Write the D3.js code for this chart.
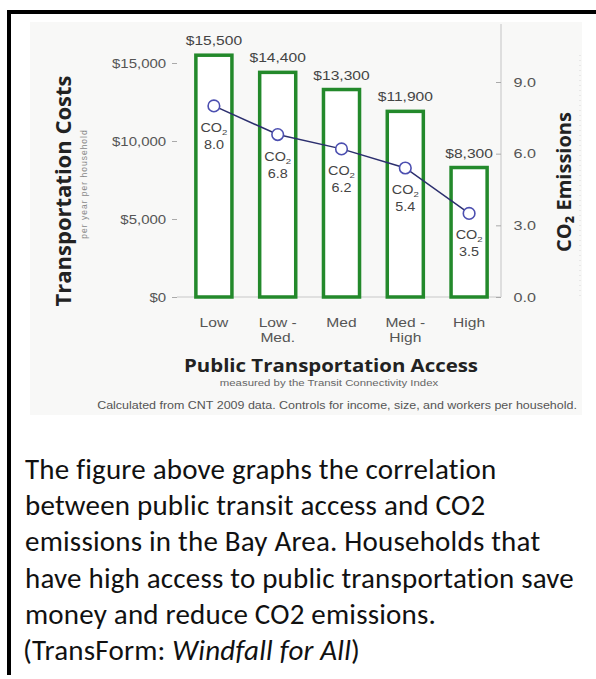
<!DOCTYPE html>
<html>
<head>
<meta charset="utf-8">
<script src="https://cdn.jsdelivr.net/npm/d3@7"></script>
<style>
  body { margin: 0; background: #fff; }
  svg { display: block; }
</style>
</head>
<body>
<script>
// chart values
var categories = ["Low", "Low - Med.", "Med", "Med - High", "High"];
var catLines = [["Low"], ["Low -", "Med."], ["Med"], ["Med -", "High"], ["High"]];
var costs = [15500, 14400, 13300, 11900, 8300];
var co2 = [8.0, 6.8, 6.2, 5.4, 3.5];
var costTicks = [0, 5000, 10000, 15000];
var co2Ticks = [0, 3, 6, 9];

var paragraph = [
  "The figure above graphs the correlation",
  "between public transit access and CO2",
  "emissions in the Bay Area. Households that",
  "have high access to public transportation save",
  "money and reduce CO2 emissions."
];

var w = 596;
var h = 679;
var chartFont = "'Liberation Sans', Arial, sans-serif";
var titleFont = "'Open Sans', 'Liberation Sans', sans-serif";
var captionFont = "Carlito, Calibri, Lato, sans-serif";
var green = "#23892b";
var stretch = 1.2; // the chart picture is a little wider than tall

var svg = d3.select("body")
            .append("svg")
            .attr("width", w)
            .attr("height", h)
            .style("background-color", "#fff");

// page frame (top and left rules)
svg.append("rect").attr("x", 7).attr("y", 10).attr("width", w - 7).attr("height", 4).attr("fill", "#000");
svg.append("rect").attr("x", 7).attr("y", 10).attr("width", 4).attr("height", 665).attr("fill", "#000");

// faint panel of the chart image
svg.append("rect")
  .attr("x", 30).attr("y", 22)
  .attr("width", 552).attr("height", 393)
  .attr("fill", "#f8f8f7");

var x = d3.scaleBand()
  .domain(categories)
  .range([182, 501])
  .paddingInner(0.38)
  .paddingOuter(0.19);

var yCost = d3.scaleLinear().domain([0, 15000]).range([297, 63]);
var yCo2 = d3.scaleLinear().domain([0, 9]).range([297, 82]);

function cx(i) { return x(categories[i]) + x.bandwidth() / 2; }

// horizontal text, stretched sideways like the source picture
function label(g, tx, ty, size, color, font) {
  return g.append("text")
    .attr("transform", "translate(" + tx + "," + ty + ") scale(" + stretch + ",1)")
    .attr("text-anchor", "middle")
    .attr("fill", color)
    .style("font-family", font || chartFont)
    .style("font-size", size + "px");
}

// baseline and right axis rule
svg.append("line")
  .attr("x1", 177).attr("x2", 501)
  .attr("y1", yCost(0)).attr("y2", yCost(0))
  .attr("stroke", "#c8c8c8");
svg.append("line")
  .attr("x1", 501).attr("x2", 501)
  .attr("y1", 24).attr("y2", yCost(0))
  .attr("stroke", "#d6d6d6").attr("stroke-width", 1.5);
svg.append("line")
  .attr("x1", 580).attr("x2", 580)
  .attr("y1", 55).attr("y2", 300)
  .attr("stroke", "#d8d8d8")
  .attr("stroke-dasharray", "1,4");

// left axis
var leftAxis = svg.append("g")
  .attr("transform", "translate(177,0)")
  .call(d3.axisLeft(yCost).tickValues(costTicks).tickFormat(d3.format("$,")).tickSize(5).tickPadding(4));
leftAxis.select(".domain").remove();
leftAxis.selectAll(".tick text").style("font-size", "12.5px");

// right axis
var rightAxis = svg.append("g")
  .attr("transform", "translate(501,0)")
  .call(d3.axisRight(yCo2).tickValues(co2Ticks).tickFormat(d3.format(".1f")).tickSize(-5).tickPadding(10.5));
rightAxis.select(".domain").remove();
rightAxis.selectAll(".tick text").style("font-size", "13.5px");

svg.selectAll(".tick line").attr("stroke", "#aaa");
svg.selectAll(".tick text")
  .attr("fill", "#555")
  .attr("transform", "scale(" + stretch + ",1)")
  .style("font-family", chartFont);

// bars
svg.selectAll(".bar")
  .data(costs)
  .enter()
  .append("rect")
  .attr("class", "bar")
  .attr("x", function(d, i) { return x(categories[i]) + 1.75; })
  .attr("y", function(d) { return yCost(d); })
  .attr("width", x.bandwidth() - 3.5)
  .attr("height", function(d) { return yCost(0) - yCost(d); })
  .attr("fill", "#fff")
  .attr("stroke", green)
  .attr("stroke-width", 3.5);

costs.forEach(function(d, i) {
  label(svg, cx(i), yCost(d) - 10, 13, "#444").text(d3.format("$,")(d));
});

// category labels
catLines.forEach(function(lines, i) {
  lines.forEach(function(t, j) {
    label(svg, cx(i), 327 + j * 15, 13, "#555").text(t);
  });
});

// co2 line and points
var line = d3.line()
  .x(function(d, i) { return cx(i); })
  .y(function(d) { return yCo2(d); });

svg.append("path")
  .datum(co2)
  .attr("d", line)
  .attr("fill", "none")
  .attr("stroke", "#2c2f6e")
  .attr("stroke-width", 1.5);

svg.selectAll(".pt")
  .data(co2)
  .enter()
  .append("circle")
  .attr("class", "pt")
  .attr("cx", function(d, i) { return cx(i); })
  .attr("cy", function(d) { return yCo2(d); })
  .attr("r", 5.8)
  .attr("fill", "#fff")
  .attr("stroke", "#4c4fb0")
  .attr("stroke-width", 1.6);

co2.forEach(function(d, i) {
  var t = label(svg, cx(i), yCo2(d) + 26, 12, "#444");
  t.append("tspan").text("CO");
  t.append("tspan").attr("dy", 3).style("font-size", "8px").text("2");
  label(svg, cx(i), yCo2(d) + 43, 12, "#444").text(d3.format(".1f")(d));
});

// axis titles
svg.append("text")
  .attr("transform", "translate(71,191) rotate(-90)")
  .attr("text-anchor", "middle")
  .attr("fill", "#222")
  .style("font-family", titleFont)
  .style("font-weight", "bold")
  .style("font-size", "22px")
  .text("Transportation Costs");

svg.append("text")
  .attr("transform", "translate(87,184) rotate(-90)")
  .attr("text-anchor", "middle")
  .attr("fill", "#888")
  .style("font-family", chartFont)
  .style("font-size", "8.5px")
  .style("letter-spacing", "1px")
  .text("per year per household");

svg.append("text")
  .attr("transform", "translate(571,182) rotate(-90)")
  .attr("text-anchor", "middle")
  .attr("fill", "#222")
  .style("font-family", titleFont)
  .style("font-weight", "bold")
  .style("font-size", "20px")
  .text("CO\u2082 Emissions");

label(svg, 331, 372, 17, "#222", titleFont)
  .style("font-weight", "bold")
  .text("Public Transportation Access");

label(svg, 329, 386, 9.5, "#666")
  .text("measured by the Transit Connectivity Index");

label(svg, 337, 409, 10.4, "#555")
  .text("Calculated from CNT 2009 data. Controls for income, size, and workers per household.");

// caption below the figure
var para = svg.append("text")
  .attr("fill", "#111")
  .style("font-family", captionFont)
  .style("font-size", "29px")
  .style("letter-spacing", "0.2px");

para.selectAll("tspan")
  .data(paragraph)
  .enter()
  .append("tspan")
  .attr("x", 25)
  .attr("y", function(d, i) { return 479 + i * 36.2; })
  .text(function(d) { return d; });

var last = svg.append("text")
  .attr("x", 23)
  .attr("y", 479 + 5 * 36.2)
  .attr("fill", "#111")
  .style("font-family", captionFont)
  .style("font-size", "29px")
  .style("letter-spacing", "0.2px");
last.append("tspan").text("(TransForm: ");
last.append("tspan").style("font-style", "italic").text("Windfall for All");
last.append("tspan").text(")");
</script>
</body>
</html>
